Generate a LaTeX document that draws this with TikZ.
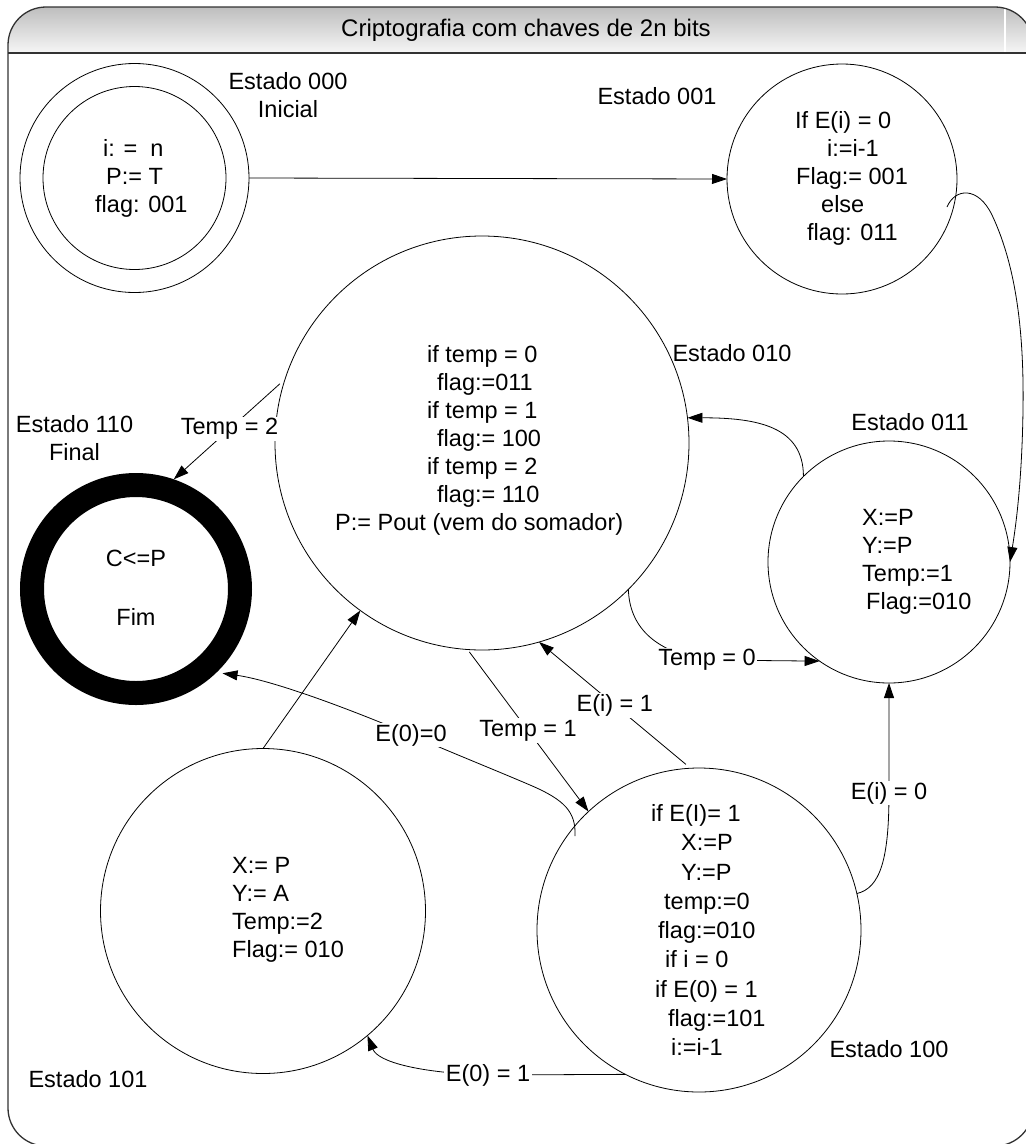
\documentclass[tikz,border=0pt]{standalone}
\usepackage{fontspec}
\setmainfont{Liberation Sans}
\usetikzlibrary{arrows.meta,calc}
\definecolor{hdtop}{RGB}{190,190,190}
\definecolor{hdbot}{RGB}{246,246,246}
\definecolor{framecol}{RGB}{50,50,50}

\begin{document}
\begin{tikzpicture}[x=1pt,y=-1pt,
  every node/.style={font=\fontsize{23.5}{28}\selectfont, inner sep=0pt},
  state/.style={circle, draw, line width=0.8pt, inner sep=0pt, outer sep=0pt},
  body/.style={align=left, anchor=west},
  tag/.style={align=center},
  lbl/.style={fill=white, inner sep=1.5pt},
  link/.style={line width=0.8pt},
  arr/.style={line width=0.8pt, -{Triangle[length=15pt,width=10pt]}}]

\useasboundingbox (0,0) rectangle (1026,1144);
\clip (0,0) rectangle (1026,1144);

% outer frame with shaded title bar
\begin{scope}
  \clip[rounded corners=38pt] (8,7) rectangle (1033,1146);
  \shade[top color=hdtop, bottom color=hdbot] (8,7) rectangle (1033,53);
  \draw[white, line width=1.5pt] (1005,7) -- (1005,52);
\end{scope}
\draw[framecol, line width=1.3pt, rounded corners=38pt] (8,7) rectangle (1033,1146);
\draw[framecol, line width=1.3pt] (8,53) -- (1033,53);
\node[font=\fontsize{24}{28}\selectfont] (title) at (526,30) {Criptografia com chaves de 2n bits};

% states
\node[state, minimum size=229pt] (s000) at (134.5,178) {};
\node[state, minimum size=183pt] (s000i) at (134.5,178) {};
\node[state, minimum size=230pt] (s001) at (842,179) {};
\node[state, minimum size=414pt] (s010) at (482,443) {};
\node[state, minimum size=242pt] (s011) at (889,562) {};
\node[circle, draw, line width=24pt, minimum size=208pt, inner sep=0pt, outer sep=12pt] (s110) at (136,589) {};
\node[state, minimum size=324pt] (s100) at (699,930) {};
\node[state, minimum size=325pt] (s101) at (263,911) {};

% transitions
\draw[arr] (s000.east) -- (s001.west);

\coordinate (a1) at ($(s001.center)+(105,28)$);
\draw[arr] (a1) .. controls (955,188) and (978,186) .. (992,215)
  .. controls (1018,270) and (1024,340) .. (1023,410)
  .. controls (1022,480) and (1016,525) .. (s011.east);

\draw[arr] (s011.135) .. controls ($(s011.135)+(0,-50)$) and ($(s010.7)+(70,0)$) .. (s010.7);

\draw[arr, shorten <=7pt] (s010.162) -- node[lbl] {Temp = 2} (s110.71);

\draw[arr] (s101.north) -- (s010.234);

\coordinate (b0) at ($(s100.center)+(-124,-94)$);
\coordinate (e0) at (411,735);
\draw[arr, shorten >=6pt] (b0) .. controls (576,812) and (565,800) .. (530,785)
  .. controls (495,770) and (450,752) .. (e0) node[lbl] {E(0)=0}
  .. controls (340,705) and (270,680) .. (s110.-46);

\draw[arr, shorten <=3pt] (s010.266) -- node[lbl] {Temp = 1} (s100.133);

\draw[arr, shorten <=6pt] (s100.93) -- node[lbl] {E(i) = 1} (s010.-74);

\coordinate (t0) at (707,660);
\draw[arr] (s010.-45) .. controls ($(s010.-45)+(1,35)$) and (652,652) .. (t0)
  node[lbl] {Temp = 0} -- (s011.235);

\coordinate (t1) at (889,793);
\draw[arr] (s100.13) .. controls (880,888) and (889,860) .. (t1)
  node[lbl] {E(i) = 0} -- (s011.south);

\coordinate (t2) at (488,1075);
\draw[arr] (s100.243) -- (t2) node[lbl] {E(0) = 1}
  .. controls (420,1073) and (378,1062) .. (s101.-50);

% state contents
\node[body] (c000) at (95,178) {\hspace*{8pt}i: =\ \ n\\\hspace*{11pt}P:= T\\flag: 001};
\node[body] (c001) at (795,178) {If E(i) = 0\\\hspace*{32pt}i:=i-1\\\hspace*{1pt}Flag:= 001\\\hspace*{26pt}else\\\hspace*{12pt}flag: 011};
\node[body] (c010) at (335,440) {\hspace*{92pt}if temp = 0\\\hspace*{102pt}flag:=011\\\hspace*{92pt}if temp = 1\\\hspace*{102pt}flag:= 100\\\hspace*{92pt}if temp = 2\\\hspace*{102pt}flag:= 110\\P:= Pout (vem do somador)};
\node[body] (c011) at (862,562) {X:=P\\Y:=P\\Temp:=1\\\hspace*{4pt}Flag:=010};
\node[tag] (c110) at (136,588) {C<=P\\[31pt]Fim};
\node[body, font=\fontsize{23.5}{29.25}\selectfont] (c100) at (651,930) {if E(I)= 1\\\hspace*{30pt}X:=P\\\hspace*{30pt}Y:=P\\\hspace*{13pt}temp:=0\\\hspace*{7pt}flag:=010\\\hspace*{14pt}if i = 0\\\hspace*{4pt}if E(0) = 1\\\hspace*{17pt}flag:=101\\\hspace*{20pt}i:=i-1};
\node[body] (c101) at (232,910) {X:= P\\Y:= A\\Temp:=2\\Flag:= 010};

% state names
\node[tag] (n000) at (288,95.5) {Estado 000\\Inicial};
\node[tag] (n001) at (657,96) {Estado 001};
\node[tag] (n010) at (732,353) {Estado 010};
\node[tag] (n011) at (910,422) {Estado 011};
\node[tag] (n110) at (74.5,438.5) {Estado 110\\Final};
\node[tag] (n100) at (889,1049) {Estado 100};
\node[tag] (n101) at (88,1079) {Estado 101};
\end{tikzpicture}
\end{document}
